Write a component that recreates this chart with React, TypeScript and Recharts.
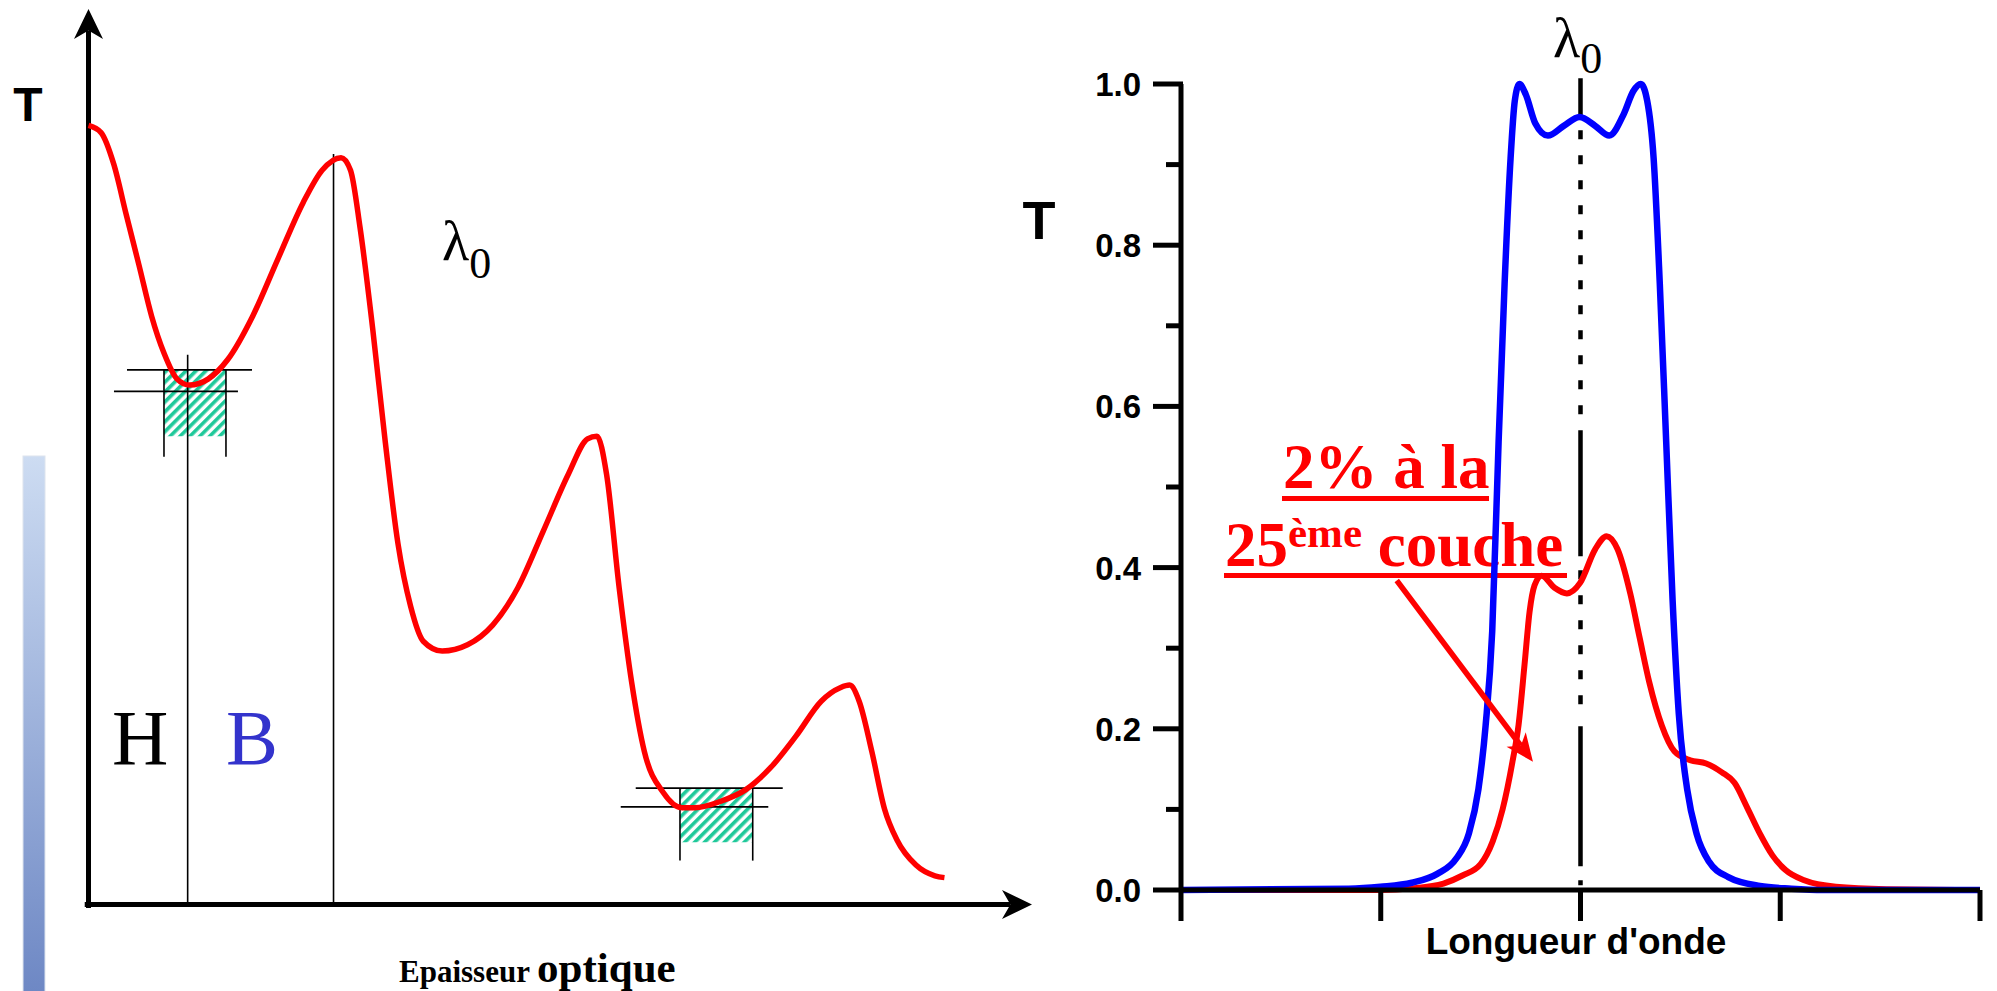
import { LineChart, Line, XAxis, YAxis, ReferenceLine, ReferenceArea } from 'recharts';

// ---- left panel: T vs optical thickness (arbitrary units) ----
const thickX = [
  0.0, 0.133, 0.267, 0.401, 0.535, 0.669, 0.803, 0.937, 1.071, 1.271, 1.472, 1.74, 2.008, 2.276, 2.476,
  2.677, 2.777, 2.878, 3.012, 3.146, 3.28, 3.414, 3.548, 3.749, 4.017, 4.284, 4.552, 4.82, 5.088, 5.289,
  5.389, 5.49, 5.624, 5.757, 5.891, 6.092, 6.293, 6.427, 6.695, 6.963, 7.231, 7.498, 7.766, 7.967, 8.067,
  8.168, 8.302, 8.436, 8.569, 8.77, 8.971, 9.072
];
const thickT = [
  0.87, 0.862, 0.827, 0.77, 0.714, 0.657, 0.615, 0.587, 0.58, 0.587, 0.608, 0.657, 0.721, 0.784, 0.82,
  0.834, 0.82, 0.756, 0.643, 0.516, 0.403, 0.333, 0.294, 0.283, 0.29, 0.312, 0.354, 0.417, 0.481, 0.52,
  0.523, 0.481, 0.354, 0.248, 0.171, 0.125, 0.108, 0.108, 0.115, 0.128, 0.153, 0.188, 0.227, 0.242, 0.245,
  0.227, 0.171, 0.107, 0.072, 0.044, 0.032, 0.03
];

// layer switch positions (x) and where their marker starts (T)
const layerX = [1.051, 2.597];
const layerTop = [0.614, 0.838];

// monitoring windows around the two minima
const winX1 = [0.8, 6.269];
const winX2 = [1.457, 7.04];
const winLow = [0.523, 0.0695];
const winHigh = [0.597, 0.13];
const winMid = [0.573, 0.109];
const winFoot = [0.5, 0.049];
const winHighFrom = [0.408, 5.8];
const winHighTo = [1.733, 7.358];
const winMidFrom = [0.27, 5.641];
const winMidTo = [1.584, 7.205];

// ---- right panel: T vs wavelength ----
const blueX = [
  0, 0.839, 0.998, 1.156, 1.283, 1.378, 1.441, 1.489, 1.525, 1.558, 1.59, 1.62, 1.65, 1.671, 1.694,
  1.726, 1.774, 1.837, 1.916, 1.995, 2.074, 2.144, 2.217, 2.264, 2.302, 2.334, 2.366, 2.397, 2.429, 2.461,
  2.492, 2.534, 2.581, 2.644, 2.74, 2.898, 3.056, 3.215, 4
];
const blueT = [
  0, 0.0016, 0.004, 0.009, 0.02, 0.039, 0.07, 0.125, 0.204, 0.321, 0.556, 0.752, 0.908, 0.979, 1.0,
  0.987, 0.951, 0.936, 0.948, 0.959, 0.948, 0.936, 0.963, 0.991, 1.0, 0.979, 0.908, 0.752, 0.556, 0.36,
  0.219, 0.125, 0.07, 0.035, 0.016, 0.005, 0.0016, 0, 0
];
const redX = [
  0, 1.0, 1.156, 1.314, 1.409, 1.5, 1.56, 1.61, 1.66, 1.69, 1.72, 1.745, 1.77, 1.805, 1.87, 1.932, 1.998,
  2.074, 2.131, 2.185, 2.249, 2.296, 2.344, 2.407, 2.47, 2.549, 2.629, 2.708, 2.771, 2.835, 2.898, 2.961,
  3.025, 3.12, 3.278, 3.531, 4
];
const redT = [
  0, 0, 0.002, 0.008, 0.018, 0.032, 0.06, 0.1, 0.16, 0.205, 0.28, 0.345, 0.378, 0.39, 0.375, 0.368, 0.381,
  0.423, 0.439, 0.423, 0.368, 0.313, 0.258, 0.204, 0.172, 0.161, 0.157, 0.146, 0.133, 0.102, 0.07, 0.043,
  0.025, 0.012, 0.004, 0.001, 0
];
const waveTicks = [0, 1, 2, 3, 4];
const tTicks = [0, 0.1, 0.2, 0.3, 0.4, 0.5, 0.6, 0.7, 0.8, 0.9, 1.0];
const lambda0 = 2;
// annotation arrow: from label to red curve
const noteFrom = { x: 1.08, y: 0.384 };
const noteTo = { x: 1.762, y: 0.159 };

const thickData = thickX.map((x, i) => ({ x, t: thickT[i] }));
const blueData = blueX.map((x, i) => ({ x, t: blueT[i] }));
const redData = redX.map((x, i) => ({ x, t: redT[i] }));

const SANS = '"Liberation Sans", Arial, sans-serif';
const SERIF = '"Liberation Serif", "Times New Roman", serif';

// dash-dot look of the lambda0 marker: long dashes between runs of dots
const dots = (n: number, last: number) => {
  const out: number[] = [];
  for (let i = 0; i < n; i++) out.push(9, i === n - 1 ? last : 16);
  return out;
};
const lambdaDash = [38, 14, ...dots(12, 16), 126, 14, ...dots(6, 22), 140, 14, ...dots(2, 20)].join(' ');

const arrow = (color: string, width: number, len: number, half: number) => (p: any) => {
  const { x1, y1, x2, y2 } = p;
  const a = Math.atan2(y2 - y1, x2 - x1);
  const c = Math.cos(a);
  const s = Math.sin(a);
  const bx = x2 - c * len;
  const by = y2 - s * len;
  const nx = x2 - c * len * 0.72;
  const ny = y2 - s * len * 0.72;
  const pts = [
    [x2, y2],
    [bx - s * half, by + c * half],
    [nx, ny],
    [bx + s * half, by - c * half]
  ]
    .map(q => q.join(','))
    .join(' ');
  return (
    <g>
      <line x1={x1} y1={y1} x2={nx} y2={ny} stroke={color} strokeWidth={width} />
      <polygon points={pts} fill={color} />
    </g>
  );
};

const plainLine = (color: string, width: number, dash?: string) => (p: any) => (
  <line x1={p.x1} y1={p.y1} x2={p.x2} y2={p.y2} stroke={color} strokeWidth={width} strokeDasharray={dash} />
);

const TTick = (props: any) => {
  const { x, y, payload } = props;
  const v = payload.value as number;
  const major = Math.round(v * 10) % 2 === 0;
  return (
    <g>
      <line x1={x + (major ? 12 : 25)} y1={y} x2={x + 42} y2={y} stroke="#000" strokeWidth={5} />
      {major && (
        <text x={x} y={y} dy={12} textAnchor="end" fontFamily={SANS} fontWeight="bold" fontSize={33} fill="#000">
          {v.toFixed(1)}
        </text>
      )}
    </g>
  );
};

// wavelength ticks carry no label, only the mark under the axis
const WaveTick = (props: any) => {
  const { x, y } = props;
  return <line x1={x} y1={y - 31} x2={x} y2={y} stroke="#000" strokeWidth={5} />;
};

const ThicknessChart = () => (
  <LineChart width={1050} height={991} data={thickData} margin={{ top: 9, left: 88.5, right: 18, bottom: 86.5 }}>
    <XAxis dataKey="x" type="number" domain={[0, 10]} hide />
    <YAxis type="number" domain={[0, 1]} hide />
    {winX1.map((x1, i) => (
      <ReferenceArea
        key={`hatch-${i}`}
        x1={x1}
        x2={winX2[i]}
        y1={winLow[i]}
        y2={winHigh[i]}
        fill="url(#hatch)"
        fillOpacity={1}
        stroke="none"
        ifOverflow="visible"
      />
    ))}
    {winX1.map((x1, i) => (
      <ReferenceLine
        key={`hi-${i}`}
        segment={[{ x: winHighFrom[i], y: winHigh[i] }, { x: winHighTo[i], y: winHigh[i] }]}
        shape={plainLine('#000', 1.6)}
        ifOverflow="visible"
      />
    ))}
    {winX1.map((x1, i) => (
      <ReferenceLine
        key={`mid-${i}`}
        segment={[{ x: winMidFrom[i], y: winMid[i] }, { x: winMidTo[i], y: winMid[i] }]}
        shape={plainLine('#000', 1.6)}
        ifOverflow="visible"
      />
    ))}
    {winX1.map((x1, i) => (
      <ReferenceLine
        key={`l-${i}`}
        segment={[{ x: x1, y: winHigh[i] }, { x: x1, y: winFoot[i] }]}
        shape={plainLine('#000', 1.6)}
        ifOverflow="visible"
      />
    ))}
    {winX2.map((x2, i) => (
      <ReferenceLine
        key={`r-${i}`}
        segment={[{ x: x2, y: winHigh[i] }, { x: x2, y: winFoot[i] }]}
        shape={plainLine('#000', 1.6)}
        ifOverflow="visible"
      />
    ))}
    {layerX.map((x, i) => (
      <ReferenceLine
        key={`layer-${i}`}
        segment={[{ x, y: layerTop[i] }, { x, y: 0 }]}
        shape={plainLine('#000', 1.6)}
        ifOverflow="visible"
      />
    ))}
    <ReferenceLine
      segment={[{ x: -0.04, y: 0 }, { x: 10, y: 0 }]}
      shape={arrow('#000', 5, 30, 14.5)}
      ifOverflow="visible"
    />
    <ReferenceLine
      segment={[{ x: 0, y: -0.004 }, { x: 0, y: 1 }]}
      shape={arrow('#000', 5, 30, 14.5)}
      ifOverflow="visible"
    />
    <Line type="monotone" dataKey="t" stroke="#ff0000" strokeWidth={5.5} dot={false} isAnimationActive={false} />
  </LineChart>
);

const SpectrumChart = () => (
  <LineChart width={997} height={991} margin={{ top: 84, left: 81, right: 17, bottom: 61 }}>
    <XAxis
      dataKey="x"
      type="number"
      domain={[0, 4]}
      ticks={waveTicks}
      tick={<WaveTick />}
      tickSize={31}
      tickMargin={0}
      tickLine={false}
      height={40}
      axisLine={{ stroke: '#000', strokeWidth: 5 }}
    />
    <YAxis
      type="number"
      domain={[0, 1]}
      ticks={tTicks}
      width={100}
      tickSize={28}
      tickMargin={12}
      tickLine={false}
      tick={<TTick />}
      axisLine={{ stroke: '#000', strokeWidth: 5 }}
    />
    <ReferenceLine
      segment={[{ x: lambda0, y: 1.007 }, { x: lambda0, y: 0.006 }]}
      shape={plainLine('#000', 4.5, lambdaDash)}
      ifOverflow="visible"
    />
    <Line data={redData} type="monotone" dataKey="t" stroke="#ff0000" strokeWidth={6} dot={false} isAnimationActive={false} />
    <Line data={blueData} type="monotone" dataKey="t" stroke="#0000ff" strokeWidth={6.5} dot={false} isAnimationActive={false} />
    <ReferenceLine segment={[noteFrom, noteTo]} shape={arrow('#ff0000', 5.5, 28, 12)} ifOverflow="visible" />
  </LineChart>
);

export default function App() {
  return (
    <div style={{ position: 'absolute', left: 0, top: 0, width: 1997, height: 991, background: '#fff', overflow: 'hidden' }}>
      <svg width={1997} height={991} style={{ position: 'absolute', left: 0, top: 0 }}>
        <defs>
          <pattern id="hatch" width={7} height={7} patternUnits="userSpaceOnUse" patternTransform="rotate(45)">
            <rect x={0} y={0} width={3.6} height={7} fill="#1fc99a" />
          </pattern>
          <linearGradient id="bar" x1="0" y1="0" x2="0" y2="1">
            <stop offset="0" stopColor="#cddcf2" />
            <stop offset="1" stopColor="#6d87c4" />
          </linearGradient>
        </defs>
        <rect x={23} y={456} width={22} height={540} fill="url(#bar)" stroke="#dde4ee" strokeWidth={1} />

        <text x={28} y={121} textAnchor="middle" fontFamily={SANS} fontWeight="bold" fontSize={48}>T</text>
        <text x={112} y={764} fontFamily={SERIF} fontSize={78} fill="#000">H</text>
        <text x={226} y={764} fontFamily={SERIF} fontSize={78} fill="#3333cc">B</text>
        <text x={442} y={260} fontFamily={SERIF} fontSize={56}>
          λ<tspan fontSize={44} dy={18}>0</tspan>
        </text>
        <text x={399} y={982} fontFamily={SERIF} fontWeight="bold" fontSize={31}>
          Epaisseur <tspan fontSize={43}>optique</tspan>
        </text>

        <text x={1039} y={239} textAnchor="middle" fontFamily={SANS} fontWeight="bold" fontSize={54}>T</text>
        <text x={1553} y={57} fontFamily={SERIF} fontSize={56}>
          λ<tspan fontSize={44} dy={16}>0</tspan>
        </text>
        <text x={1576} y={954} textAnchor="middle" fontFamily={SANS} fontWeight="bold" fontSize={37}>Longueur d'onde</text>

        <g fill="#ff0000" fontFamily={SERIF} fontWeight="bold">
          <text x={1283} y={488} fontSize={63}>2% à la</text>
          <rect x={1282} y={496} width={207} height={5} />
          <text x={1225} y={566} fontSize={63}>
            25<tspan fontSize={43} dy={-19}>ème</tspan>
            <tspan fontSize={63} dy={19}> couche</tspan>
          </text>
          <rect x={1224} y={573} width={343} height={5} />
        </g>
      </svg>
      <div style={{ position: 'absolute', left: 0, top: 0 }}>
        <ThicknessChart />
      </div>
      <div style={{ position: 'absolute', left: 1000, top: 0 }}>
        <SpectrumChart />
      </div>
    </div>
  );
}
